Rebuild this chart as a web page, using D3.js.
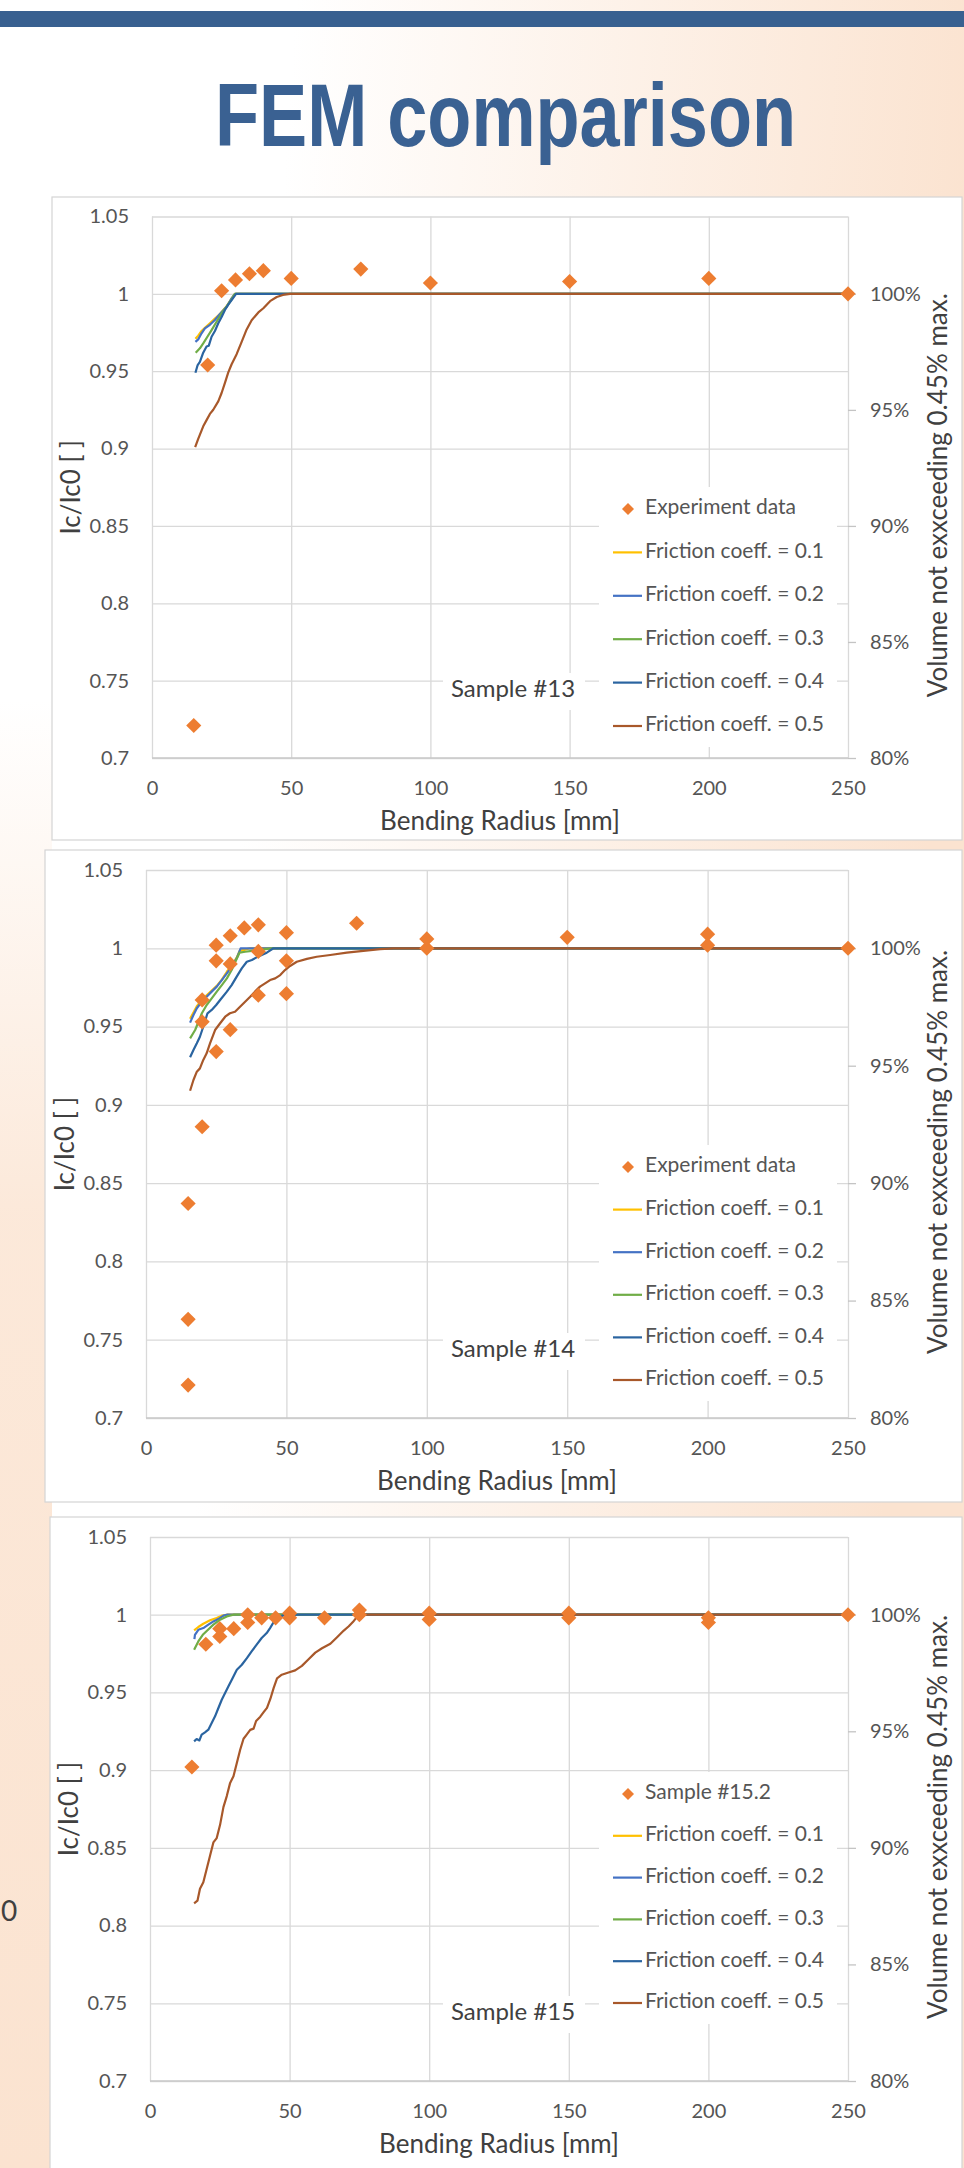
<!DOCTYPE html>
<html>
<head>
<meta charset="utf-8">
<script src="https://cdn.jsdelivr.net/npm/d3@7"></script>
<style>
  html, body { margin: 0; padding: 0; background: #fff; }
  svg { display: block; }
</style>
</head>
<body>
<svg id="page" width="964" height="2168"></svg>
<script>
// ---- data ----
var xTicks = [0, 50, 100, 150, 200, 250];
var yTicks = [0.7, 0.75, 0.8, 0.85, 0.9, 0.95, 1, 1.05];
var yTickLabels = ["0.7", "0.75", "0.8", "0.85", "0.9", "0.95", "1", "1.05"];
var pctTicks = [80, 85, 90, 95, 100];
var pctTickLabels = ["80%", "85%", "90%", "95%", "100%"];

var frictionNames = ["Friction coeff. = 0.1", "Friction coeff. = 0.2", "Friction coeff. = 0.3",
                     "Friction coeff. = 0.4", "Friction coeff. = 0.5"];
var frictionColors = ["#FFC000", "#4472C4", "#70AD47", "#2A64A0", "#A8582A"];
var expColor = "#ED7D31";

// Sample #13
var exp13 = [[15,0.721],[20,0.954],[25,1.002],[30,1.009],[35,1.013],[40,1.015],[50,1.010],
             [75,1.016],[100,1.007],[150,1.008],[200,1.010],[250,1.000]];
var f13_01 = [[15.6,0.971],[16.6,0.973],[17.8,0.976],[19.0,0.978],[20.8,0.981],[22.6,0.984],
              [24.4,0.987],[26.8,0.992],[28.6,0.997],[29.8,1.0],[250,1.0]];
var f13_02 = [[15.6,0.969],[16.6,0.9706],[17.8,0.9745],[19.0,0.9777],[20.8,0.980],[22.6,0.9831],
              [24.4,0.987],[26.8,0.9917],[28.6,0.9971],[29.8,1.0],[250,1.0]];
var f13_03 = [[15.7,0.962],[17.2,0.9648],[18.4,0.968],[19.9,0.9723],[21.4,0.9766],[23.2,0.982],
              [25.0,0.9874],[26.8,0.9917],[28.6,0.9965],[29.8,1.0],[250,1.0]];
var f13_04 = [[15.6,0.949],[16.4,0.954],[17.2,0.956],[18.4,0.962],[19.6,0.966],[20.4,0.9665],
              [21.4,0.9723],[22.6,0.976],[23.8,0.981],[25.0,0.985],[26.2,0.9896],[27.4,0.993],
              [28.6,0.996],[30.2,1.0],[250,1.0]];
var f13_05 = [[15.5,0.901],[16.6,0.9063],[18.4,0.9144],[19.6,0.9184],[20.8,0.9224],[22.0,0.9251],
              [23.8,0.9305],[25.0,0.9359],[26.2,0.9425],[27.4,0.9492],[28.6,0.9545],[30.4,0.961],
              [32.2,0.969],[34.0,0.977],[35.8,0.983],[38.2,0.988],[40.0,0.9907],[42.4,0.9953],
              [44.8,0.998],[47.0,0.9993],[49.6,1.0],[250,1.0]];

// Sample #14
var exp14 = [[15,0.721],[15,0.763],[15,0.837],[20,0.886],[20,0.953],[20,0.967],[25,0.934],
             [25,0.992],[25,1.002],[30,0.948],[30,0.990],[30,1.008],[35,1.013],[40,0.970],
             [40,0.998],[40,1.015],[50,0.971],[50,0.992],[50,1.010],[75,1.016],[100,1.000],
             [100,1.006],[150,1.007],[200,1.002],[200,1.009],[250,1.000]];
var f14_01 = [[15.7,0.955],[16.9,0.959],[18.1,0.963],[19.9,0.967],[21.6,0.970],[23.4,0.973],
              [25.2,0.976],[27.0,0.980],[28.8,0.985],[30.5,0.989],[32.3,0.994],[33.4,0.9985],
              [35.0,0.999],[37.0,1.0],[250,1.0]];
var f14_02 = [[15.7,0.9525],[16.9,0.9574],[18.1,0.9617],[19.9,0.9659],[21.6,0.9691],[23.4,0.9723],
              [25.2,0.9755],[27.0,0.9797],[28.8,0.984],[30.5,0.9882],[32.3,0.9936],[33.7,1.0],[250,1.0]];
var f14_03 = [[15.7,0.9425],[17.5,0.9478],[18.7,0.9531],[19.9,0.9585],[21.6,0.9638],[23.4,0.968],
              [25.2,0.9723],[27.0,0.9765],[28.8,0.9808],[30.5,0.9861],[32.1,0.9925],[33.3,0.9972],
              [35.3,0.9978],[37.7,0.9984],[40.0,0.9989],[42.4,0.9995],[44.8,1.0],[250,1.0]];
var f14_04 = [[15.7,0.9304],[16.9,0.935],[18.1,0.9393],[19.2,0.9435],[20.4,0.9499],[21.9,0.9585],
              [23.4,0.9606],[25.0,0.9638],[26.4,0.967],[28.8,0.9723],[30.5,0.9765],[32.3,0.9819],
              [34.1,0.9872],[35.9,0.9914],[37.7,0.9925],[39.4,0.9942],[41.2,0.9957],[43.0,0.9972],
              [45.4,1.0],[250,1.0]];
var f14_05 = [[15.7,0.909],[16.9,0.9159],[18.1,0.9212],[19.2,0.9233],[20.4,0.9287],[21.6,0.9329],
              [22.8,0.9393],[24.6,0.9478],[26.4,0.9521],[28.2,0.9563],[29.9,0.9585],[31.7,0.9595],
              [33.5,0.9627],[35.3,0.9659],[37.1,0.9691],[38.8,0.9723],[40.6,0.9755],[42.4,0.9776],
              [44.2,0.9797],[46.0,0.9808],[47.8,0.9829],[49.5,0.9861],[51.3,0.9887],[53.7,0.9914],
              [57.3,0.9932],[60.8,0.9946],[65.6,0.9957],[71.5,0.9972],[77.4,0.9984],[83.4,0.9995],
              [88.0,1.0],[250,1.0]];

// Sample #15
var exp15 = [[15,0.902],[20,0.981],[25,0.986],[25,0.991],[30,0.991],[35,0.995],[35,1.000],
             [40,0.998],[45,0.998],[50,0.998],[50,1.001],[62.5,0.998],[75,1.000],[75,1.003],
             [100,0.997],[100,1.001],[150,0.998],[150,1.001],[200,0.995],[200,0.998],[250,1.000]];
var f15_01 = [[15.8,0.9899],[17.3,0.9921],[19.1,0.9942],[21.5,0.9964],[23.9,0.9979],[25.7,0.9994],
              [27.5,1.0],[250,1.0]];
var f15_02 = [[15.9,0.9843],[16.1,0.9871],[17.3,0.9903],[19.1,0.9914],[20.9,0.9936],[22.7,0.9957],
              [24.5,0.9972],[26.3,0.9994],[27.5,1.0],[250,1.0]];
var f15_03 = [[15.8,0.9775],[17.3,0.9828],[18.9,0.9871],[20.5,0.9899],[22.7,0.9936],[25.1,0.9968],
              [27.5,0.9989],[29.9,1.0],[250,1.0]];
var f15_04 = [[15.8,0.9185],[16.7,0.920],[17.7,0.9191],[18.5,0.9228],[19.7,0.9243],[20.9,0.926],
              [22.1,0.9303],[23.3,0.9346],[24.5,0.94],[25.7,0.9453],[26.9,0.9496],[28.1,0.9539],
              [29.3,0.9582],[31.1,0.9646],[32.9,0.9678],[34.7,0.9721],[36.4,0.9764],[38.2,0.9807],
              [40.0,0.985],[41.8,0.9882],[43.0,0.9914],[44.2,0.995],[46.0,0.9985],[47.8,0.9996],
              [50.2,1.0],[250,1.0]];
var f15_05 = [[15.8,0.8143],[17.0,0.816],[17.9,0.8237],[19.1,0.8279],[20.3,0.8364],[21.5,0.8449],
              [22.7,0.8535],[23.9,0.8563],[25.1,0.8648],[26.3,0.8762],[27.5,0.8833],[28.7,0.8918],
              [29.9,0.8961],[31.1,0.9046],[32.3,0.9131],[33.5,0.9202],[34.7,0.923],[35.9,0.9259],
              [37.1,0.9267],[38.0,0.9316],[39.5,0.9344],[40.7,0.9373],[41.9,0.9401],[43.1,0.9458],
              [44.3,0.9529],[45.5,0.9591],[47.2,0.9614],[49.6,0.9628],[52.0,0.9642],[54.4,0.9671],
              [56.8,0.9713],[59.2,0.9756],[61.6,0.9784],[64.6,0.9813],[67.0,0.9855],[69.4,0.9898],
              [71.2,0.9926],[73.0,0.996],[74.8,1.0],[250,1.0]];

var samples = [
  { label: "Sample #13", expName: "Experiment data", exp: exp13, lines: [f13_01, f13_02, f13_03, f13_04, f13_05] },
  { label: "Sample #14", expName: "Experiment data", exp: exp14, lines: [f14_01, f14_02, f14_03, f14_04, f14_05] },
  { label: "Sample #15", expName: "Sample #15.2",    exp: exp15, lines: [f15_01, f15_02, f15_03, f15_04, f15_05] }
];

// ---- page layout (pixels) ----
var layout = [
  { panel: [52, 197, 962, 840],  plot: [152, 216.5, 848, 758], legendY: 509,  legendStep: 43.4 },
  { panel: [45, 850, 962, 1502], plot: [146, 870, 848, 1418],  legendY: 1167, legendStep: 42.6 },
  { panel: [50, 1517, 962, 2175], plot: [150, 1537, 848, 2081], legendY: 1794, legendStep: 41.8 }
];

var font = "Lato, 'Open Sans', sans-serif";
var tickColor = "#555555";
var titleColor = "#404040";
var gridColor = "#D9D9D9";

var svg = d3.select("#page");

/* Background */
var defs = svg.append("defs");
var bg = defs.append("linearGradient").attr("id", "bgGrad")
    .attr("x1", "0").attr("y1", "0").attr("x2", "1").attr("y2", "0.15");
bg.append("stop").attr("offset", "0.3").attr("stop-color", "#ffffff");
bg.append("stop").attr("offset", "1").attr("stop-color", "#FBE3D0");

var leftGrad = defs.append("linearGradient").attr("id", "leftGrad")
    .attr("x1", "0").attr("y1", "0").attr("x2", "0").attr("y2", "1");
leftGrad.append("stop").attr("offset", "0").attr("stop-color", "#FBE3D0").attr("stop-opacity", 0);
leftGrad.append("stop").attr("offset", "0.35").attr("stop-color", "#FBE3D0").attr("stop-opacity", 0.8);
leftGrad.append("stop").attr("offset", "1").attr("stop-color", "#FBE3D0").attr("stop-opacity", 1);

svg.append("rect").attr("width", 964).attr("height", 2168).attr("fill", "url(#bgGrad)");
svg.append("rect").attr("x", 0).attr("y", 700).attr("width", 52).attr("height", 1468).attr("fill", "url(#leftGrad)");

svg.append("rect").attr("x", 0).attr("y", 11).attr("width", 964).attr("height", 16).attr("fill", "#386090");

svg.append("text")
    .attr("x", 215).attr("y", 146)
    .attr("textLength", 581).attr("lengthAdjust", "spacingAndGlyphs")
    .style("font-family", "'Liberation Sans', Arial, sans-serif")
    .style("font-size", "89px").style("font-weight", "bold")
    .attr("fill", "#3A6192")
    .text("FEM comparison");

// glyph at the left slide edge
svg.append("text").attr("x", 1).attr("y", 1921)
    .style("font-family", font).style("font-size", "28px").attr("fill", "#404040").text("0");

function drawChart(s, L) {
  var px0 = L.plot[0], py0 = L.plot[1], px1 = L.plot[2], py1 = L.plot[3];

  var x = d3.scaleLinear().domain([0, 250]).range([px0, px1]);
  var y = d3.scaleLinear().domain([0.7, 1.05]).range([py1, py0]);
  var yR = d3.scaleLinear().domain([80, 100]).range([y(0.7), y(1)]);

  var g = svg.append("g");

  g.append("rect")
      .attr("x", L.panel[0]).attr("y", L.panel[1])
      .attr("width", L.panel[2] - L.panel[0]).attr("height", L.panel[3] - L.panel[1])
      .attr("fill", "#ffffff").attr("stroke", "#D4D4D4").attr("stroke-width", 1.2);

  // gridlines
  var gx = g.append("g").attr("transform", "translate(0," + py1 + ")")
      .call(d3.axisBottom(x).tickValues(xTicks).tickSize(-(py1 - py0)).tickFormat(""));
  var gy = g.append("g").attr("transform", "translate(" + px0 + ",0)")
      .call(d3.axisLeft(y).tickValues(yTicks).tickSize(-(px1 - px0)).tickFormat(""));
  [gx, gy].forEach(function(a) {
    a.select(".domain").remove();
    a.selectAll("line").attr("stroke", gridColor).attr("stroke-width", 1.3);
  });
  g.append("line").attr("x1", px0).attr("x2", px1).attr("y1", py1).attr("y2", py1)
      .attr("stroke", "#C9C9C9").attr("stroke-width", 1.4);

  // left axis labels
  var la = g.append("g").attr("transform", "translate(" + px0 + ",0)")
      .call(d3.axisLeft(y).tickValues(yTicks).tickSize(0).tickPadding(23)
            .tickFormat(function(d, i) { return yTickLabels[i]; }));
  // bottom axis labels
  var ba = g.append("g").attr("transform", "translate(0," + py1 + ")")
      .call(d3.axisBottom(x).tickValues(xTicks).tickSize(0).tickPadding(23));
  // right axis (percent)
  var ra = g.append("g").attr("transform", "translate(" + px1 + ",0)")
      .call(d3.axisRight(yR).tickValues(pctTicks).tickSize(8).tickPadding(14)
            .tickFormat(function(d, i) { return pctTickLabels[i]; }));
  [la, ba, ra].forEach(function(a) {
    a.select(".domain").remove();
    a.attr("font-family", font).attr("font-size", 20);
    a.selectAll("text").attr("fill", tickColor);
    a.selectAll("line").attr("stroke", "#C4C4C4").attr("stroke-width", 1.3);
  });

  // axis titles
  var cy = (py0 + py1) / 2;
  g.append("text")
      .attr("transform", "translate(" + (px0 - 79) + "," + cy + ") rotate(-90)")
      .attr("text-anchor", "middle").attr("dominant-baseline", "middle")
      .style("font-family", font).style("font-size", "26px").attr("fill", titleColor)
      .text("Ic/Ic0 [ ]");
  g.append("text")
      .attr("x", (px0 + px1) / 2).attr("y", py1 + 65)
      .attr("text-anchor", "middle").attr("dominant-baseline", "middle")
      .style("font-family", font).style("font-size", "26px").attr("fill", titleColor)
      .text("Bending Radius [mm]");
  g.append("text")
      .attr("transform", "translate(940," + (cy + 8) + ") rotate(-90)")
      .attr("text-anchor", "middle").attr("dominant-baseline", "middle")
      .style("font-family", font).style("font-size", "26px").attr("fill", titleColor)
      .text("Volume not exxceeding 0.45% max.");

  // sample label with its white box
  var sy = py1 - 67;
  g.append("rect").attr("x", 443).attr("y", sy - 18).attr("width", 142).attr("height", 37).attr("fill", "#ffffff");
  g.append("text").attr("x", 513).attr("y", sy)
      .attr("text-anchor", "middle").attr("dominant-baseline", "middle")
      .style("font-family", font).style("font-size", "24px").attr("fill", titleColor)
      .text(s.label);

  // legend box
  var lTop = L.legendY - 22, lBot = L.legendY + 5 * L.legendStep + 21;
  g.append("rect").attr("x", px1 - 249).attr("y", lTop).attr("width", 238).attr("height", lBot - lTop)
      .attr("fill", "#ffffff");

  // friction lines
  var line = d3.line().x(function(d) { return x(d[0]); }).y(function(d) { return y(d[1]); });
  g.selectAll("path.fric").data(s.lines).enter().append("path")
      .attr("class", "fric")
      .attr("d", line)
      .attr("fill", "none")
      .attr("stroke", function(d, i) { return frictionColors[i]; })
      .attr("stroke-width", 2.2)
      .attr("stroke-linejoin", "round");

  // experiment points
  var diamond = d3.symbol().type(d3.symbolSquare).size(115);
  g.selectAll("path.exp").data(s.exp).enter().append("path")
      .attr("class", "exp")
      .attr("d", diamond)
      .attr("transform", function(d) { return "translate(" + x(d[0]) + "," + y(d[1]) + ") rotate(45)"; })
      .attr("fill", expColor);

  // legend entries
  var lx = px1 - 235, tx = px1 - 203;
  g.append("path").attr("d", d3.symbol().type(d3.symbolSquare).size(72))
      .attr("transform", "translate(" + (px1 - 220) + "," + L.legendY + ") rotate(45)")
      .attr("fill", expColor);
  g.append("text").attr("x", tx).attr("y", L.legendY).attr("dominant-baseline", "middle")
      .style("font-family", font).style("font-size", "21px").attr("fill", tickColor)
      .text(s.expName);
  frictionNames.forEach(function(name, i) {
    var ly = L.legendY + (i + 1) * L.legendStep;
    g.append("line").attr("x1", lx).attr("x2", lx + 29).attr("y1", ly).attr("y2", ly)
        .attr("stroke", frictionColors[i]).attr("stroke-width", 2.2);
    g.append("text").attr("x", tx).attr("y", ly).attr("dominant-baseline", "middle")
        .style("font-family", font).style("font-size", "21px").attr("fill", tickColor)
        .text(name);
  });
}

samples.forEach(function(s, i) { drawChart(s, layout[i]); });
</script>
</body>
</html>
